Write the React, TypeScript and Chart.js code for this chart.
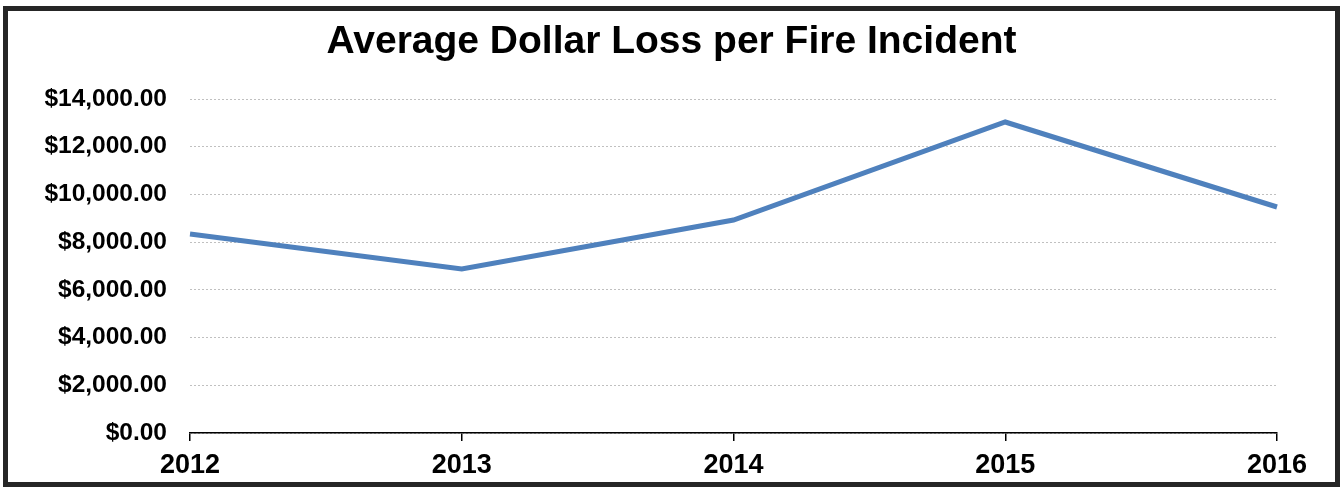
import React, { useEffect, useRef } from "react";
import { Chart, registerables } from "chart.js";

Chart.register(...registerables);

const TITLE = "Average Dollar Loss per Fire Incident";
const YEARS = ["2012", "2013", "2014", "2015", "2016"];
const AVG_LOSS = [8341, 6874, 8928, 13036, 9473];
const Y_MIN = 0;
const Y_MAX = 14000;
const Y_STEP = 2000;

const FONT = "'Liberation Sans', Arial, Helvetica, sans-serif";

const formatDollar = (v: number) =>
  "$" + v.toLocaleString("en-US", { minimumFractionDigits: 2, maximumFractionDigits: 2 });

export default function App() {
  const ref = useRef<HTMLCanvasElement | null>(null);

  useEffect(() => {
    if (!ref.current) return;
    const chart = new Chart(ref.current, {
      type: "line",
      data: {
        labels: YEARS,
        datasets: [
          {
            label: "Average Dollar Loss",
            data: AVG_LOSS,
            borderColor: "#4f81bd",
            backgroundColor: "#4f81bd",
            borderWidth: 5,
            pointRadius: 0,
            tension: 0,
            fill: false,
            yAxisID: "y",
          },
        ],
      },
      options: {
        responsive: false,
        animation: false,
        devicePixelRatio: 1,
        layout: { padding: 0 },
        plugins: {
          legend: { display: false },
          tooltip: { enabled: false },
          title: {
            display: true,
            text: TITLE,
            color: "#000000",
            font: { family: FONT, size: 39, weight: "bold", lineHeight: 1.2 },
            padding: { top: 8, bottom: 33.2 },
          },
        },
        scales: {
          x: {
            type: "category",
            offset: false,
            grid: {
              display: true,
              drawOnChartArea: false,
              drawTicks: true,
              tickLength: 8,
              color: "#000000",
              lineWidth: 1.5,
            },
            border: { display: true, color: "#000000", width: 1.5 },
            ticks: {
              color: "#000000",
              font: { family: FONT, size: 27, weight: "bold", lineHeight: 1.2 },
              padding: 8,
              maxRotation: 0,
              autoSkip: false,
            },
            afterFit: (scale: any) => {
              scale.height = 49;
            },
          },
          y: {
            min: Y_MIN,
            max: Y_MAX,
            grid: {
              display: true,
              drawTicks: false,
              color: "#c0c0c0",
              lineWidth: 1,
            },
            border: { display: false, dash: [2, 2] },
            ticks: {
              stepSize: Y_STEP,
              color: "#000000",
              font: { family: FONT, size: 24.5, weight: "bold" },
              padding: 23,
              callback: (v: any) => formatDollar(Number(v)),
            },
            afterFit: (scale: any) => {
              scale.width = 182;
            },
          },
          yRight: {
            position: "right",
            min: Y_MIN,
            max: Y_MAX,
            display: true,
            grid: { display: false, drawTicks: false },
            border: { display: false },
            ticks: { display: false },
            afterFit: (scale: any) => {
              scale.width = 58;
            },
          },
        },
      },
    });
    return () => chart.destroy();
  }, []);

  return (
    <div
      style={{
        position: "fixed",
        left: 0,
        top: 0,
        width: 1340,
        height: 487,
        background: "#ffffff",
      }}
    >
      <div
        style={{
          position: "absolute",
          left: 3,
          top: 6,
          width: 1337,
          height: 481,
          boxSizing: "border-box",
          border: "5px solid #262626",
          background: "#ffffff",
        }}
      >
        <canvas ref={ref} width={1327} height={471} style={{ display: "block" }} />
      </div>
    </div>
  );
}
